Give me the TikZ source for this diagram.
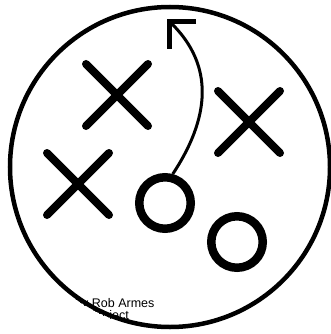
\documentclass[tikz,border=0pt]{standalone}
\usepackage{fontspec}
\setmainfont{Liberation Sans}
\usetikzlibrary{shapes.misc}

\begin{document}
\begin{tikzpicture}[x=1pt, y=-1pt,
    cross/.style={cross out, draw, line width=8pt, line cap=round, minimum size=54pt, inner sep=0pt},
    ring/.style={circle, draw, line width=8.5pt, minimum size=51.5pt, inner sep=0pt},
    credit/.style={inner sep=0pt, font=\fontsize{12.5}{14}\selectfont}]
    \useasboundingbox (0, 0) rectangle (331, 334);

    % Поле
    \coordinate (c) at (170, 167);
    \begin{scope}
        \clip (c) circle (162.5);
        \node[credit, anchor=base west] (author) at (75, 307) {by Rob Armes};
        \node[credit, anchor=base east] (source) at (129, 319.5) {Project};
    \end{scope}
    \draw[line width=4.5pt] (c) circle (160);

    % Игроки
    \node[cross] (x1) at (117, 95) {};
    \node[cross] (x2) at (249, 122) {};
    \node[cross] (x3) at (78, 184) {};
    \node[ring] (o1) at (165, 203) {};
    \node[ring] (o2) at (237, 242) {};

    % Маршрут
    \coordinate (tip) at (169.5, 21.5);
    \draw[line width=3pt] (o1.75) .. controls (215, 110) and (210, 60) .. (tip);
    \draw[line width=5pt, line join=miter] (tip) ++(26.5, 0) -- (tip) -- ++(0, 27.5);
\end{tikzpicture}
\end{document}
